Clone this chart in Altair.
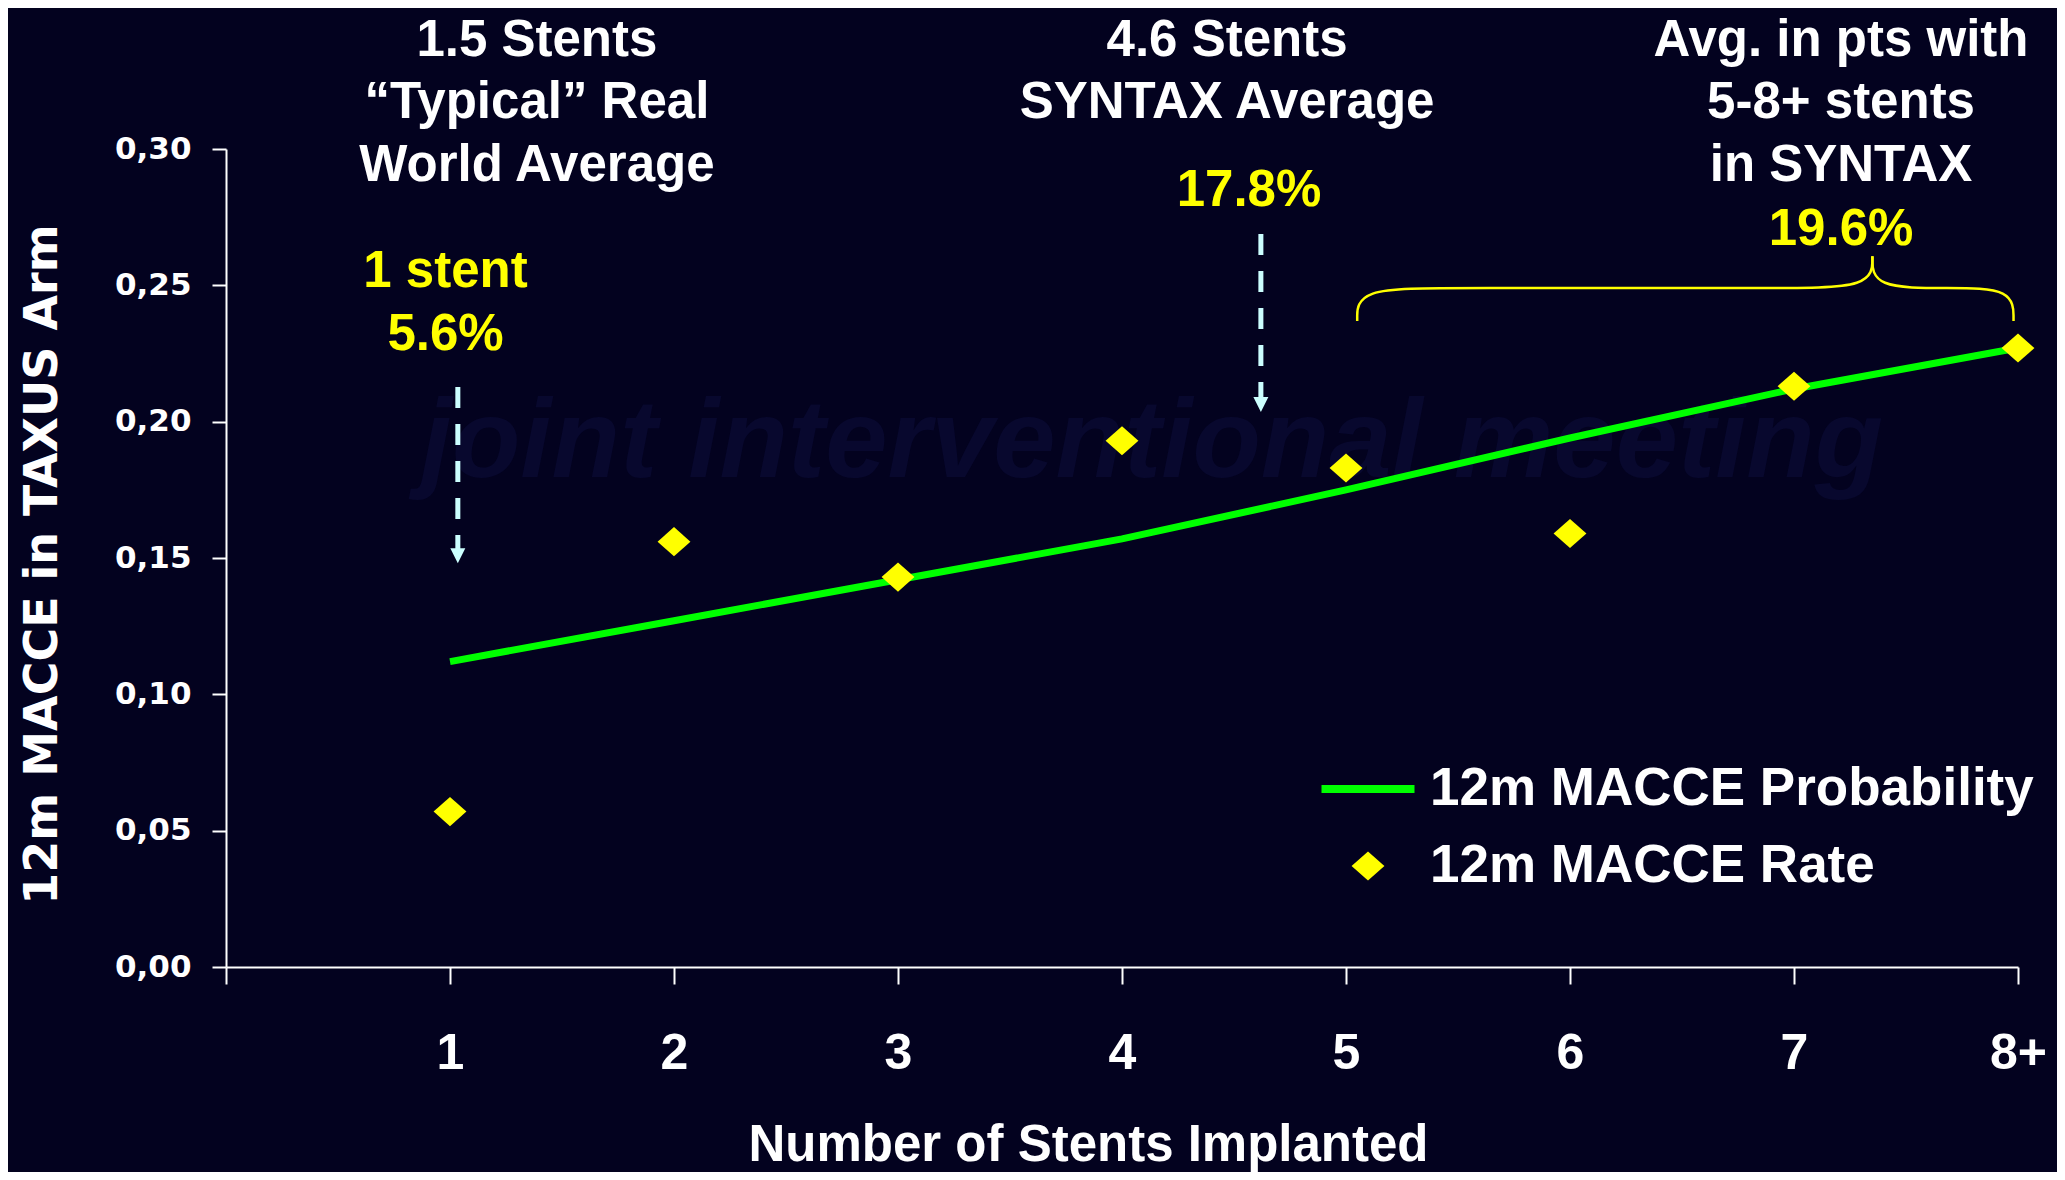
import altair as alt
import pandas as pd

# ---------------- data ----------------
stents = [1, 2, 3, 4, 5, 6, 7, 8]
tick_labels = ["1", "2", "3", "4", "5", "6", "7", "8+"]
macce_probability = [0.112, 0.127, 0.142, 0.157, 0.175, 0.194, 0.212, 0.227]
macce_rate = [0.057, 0.156, 0.143, 0.193, 0.183, 0.159, 0.213, 0.227]
y_ticks = [0.0, 0.05, 0.10, 0.15, 0.20, 0.25, 0.30]
series_names = ["12m MACCE Probability", "12m MACCE Rate"]

white_text = ["1.5 Stents", "\u201cTypical\u201d Real", "World Average",
              "4.6 Stents", "SYNTAX Average",
              "Avg. in pts with", "5-8+ stents", "in SYNTAX"]
white_x = [1.388, 1.388, 1.388, 4.469, 4.469, 7.21, 7.21, 7.21]
white_y = [0.3408, 0.3179, 0.2950, 0.3408, 0.3179, 0.3408, 0.3179, 0.2950]

yellow_text = ["1 stent", "5.6%", "17.8%", "19.6%"]
yellow_x = [0.98, 0.98, 4.567, 7.21]
yellow_y = [0.256, 0.2329, 0.2857, 0.2714]

arrow_x = [1.035, 4.62]
arrow_top = [0.2127, 0.2688]
arrow_tip = [0.1481, 0.2035]

brace_x = [5.05, 5.05, 5.47, 6.93, 7.35, 7.35, 7.35, 7.35, 7.69, 7.98, 7.98]
brace_y = [0.2369, 0.249, 0.249, 0.249, 0.249, 0.2607,
           0.2607, 0.249, 0.249, 0.249, 0.2369]
brace_part = [0, 0, 0, 0, 0, 0, 1, 1, 1, 1, 1]

watermark_text = "joint interventional meeting"

# ---------------- styles ----------------
BG = "#03021f"
GREEN = "#00ff00"
YELLOW = "#ffff00"
CYAN = "#ccffff"
ARIAL = "Liberation Sans"
VERDANA = "DejaVu Sans"
RECT = "M-1.5,-0.13L1.5,-0.13L1.5,0.13L-1.5,0.13Z"
DIAMOND = "M-0.53,0L0,-0.47L0.53,0L0,0.47Z"
TRI = "M-1,-1L1,-1L0,1Z"

X_SCALE = alt.Scale(domain=[0, 8], nice=False, zero=False)
Y_SCALE = alt.Scale(domain=[0, 0.30], nice=False, zero=False)

label_js = "[" + ",".join("'" + t + "'" for t in tick_labels) + "]"
x_label_expr = "datum.value < 1 ? '' : " + label_js + "[datum.value - 1]"

x_axis = alt.Axis(
    values=[0] + stents, labelExpr=x_label_expr, grid=False,
    domainColor="white", domainWidth=2, tickColor="white", tickWidth=2, tickSize=17,
    labelColor="white", labelFont=ARIAL, labelFontSize=50, labelFontWeight="bold",
    labelPadding=44, labelFlush=False, labelOverlap=False,
    title="Number of Stents Implanted", titleColor="white", titleFont=ARIAL,
    titleFontSize=51, titleFontWeight="bold", titleX=862, titleY=178,
    titleAlign="center", titleBaseline="middle",
)
y_axis = alt.Axis(
    values=y_ticks, labelExpr="replace(format(datum.value, '.2f'), '.', ',')", grid=False,
    domainColor="white", domainWidth=2, tickColor="white", tickWidth=2, tickSize=14,
    labelColor="white", labelFont=VERDANA, labelFontSize=31, labelFontWeight="bold",
    labelPadding=21, labelOverlap=False,
    title="12m MACCE in TAXUS Arm", titleColor="white", titleFont=VERDANA,
    titleFontSize=46, titleFontWeight="bold", titleAngle=270, titleX=-184, titleY=415,
    titleAlign="center", titleBaseline="middle",
)


def X(field):
    return alt.X(field, scale=X_SCALE, axis=x_axis)


def Y(field):
    return alt.Y(field, scale=Y_SCALE, axis=y_axis)


legend = alt.Legend(
    title=None, orient="none", legendX=1111, legendY=609, padding=0,
    labelFont=ARIAL, labelFontSize=53, labelFontWeight="bold", labelColor="white",
    labelLimit=900, labelOffset=31, symbolSize=3844, symbolOpacity=1,
    symbolStrokeWidth=0, rowPadding=19,
)

# ---------------- layers ----------------
watermark = alt.Chart(pd.DataFrame({"t": [watermark_text]})).mark_text(
    font=ARIAL, fontStyle="italic", fontWeight="bold", fontSize=112,
    color="#08082e", align="center", baseline="alphabetic",
).encode(x=alt.value(926), y=alt.value(328), text="t:N")

prob_df = pd.DataFrame({"x": stents, "y": macce_probability})
line = alt.Chart(prob_df).mark_line(color=GREEN, strokeWidth=7).encode(
    x=X("x:Q"), y=Y("y:Q"),
)

rate_df = pd.DataFrame({"x": stents, "y": macce_rate, "series": [series_names[1]] * len(stents)})
points = alt.Chart(rate_df).mark_point(filled=True, opacity=1, size=3844, strokeWidth=0).encode(
    x=X("x:Q"), y=Y("y:Q"),
    color=alt.Color("series:N", scale=alt.Scale(domain=series_names, range=[GREEN, YELLOW]), legend=legend),
    shape=alt.Shape("series:N", scale=alt.Scale(domain=series_names, range=[RECT, DIAMOND]), legend=legend),
)

arrow_df = pd.DataFrame({"x": arrow_x, "top": arrow_top, "tip": arrow_tip})
shaft = alt.Chart(arrow_df).mark_rule(color=CYAN, strokeWidth=5, strokeDash=[21, 16], y2Offset=-13).encode(
    x=X("x:Q"), y=Y("top:Q"), y2="tip:Q",
)
head = alt.Chart(arrow_df).mark_point(shape=TRI, filled=True, opacity=1, size=225, color=CYAN,
                                      strokeWidth=0, yOffset=-7.5).encode(
    x=X("x:Q"), y=Y("tip:Q"),
)

brace_df = pd.DataFrame({"x": brace_x, "y": brace_y, "part": brace_part,
                         "ord": list(range(len(brace_x)))})
brace = alt.Chart(brace_df).mark_line(color=YELLOW, strokeWidth=2.5, interpolate="basis").encode(
    x=X("x:Q"), y=Y("y:Q"), detail="part:N", order="ord:Q",
)

white_df = pd.DataFrame({"x": white_x, "y": white_y, "label": white_text})
white = alt.Chart(white_df).mark_text(font=ARIAL, fontSize=51, fontWeight="bold", color="white",
                                      align="center", baseline="middle", dy=3).encode(
    x=X("x:Q"), y=Y("y:Q"), text="label:N",
)

yellow_df = pd.DataFrame({"x": yellow_x, "y": yellow_y, "label": yellow_text})
yellow = alt.Chart(yellow_df).mark_text(font=ARIAL, fontSize=51, fontWeight="bold", color=YELLOW,
                                        align="center", baseline="middle", dy=3).encode(
    x=X("x:Q"), y=Y("y:Q"), text="label:N",
)

chart = alt.layer(watermark, line, points, shaft, head, brace, white, yellow).properties(
    width=1792, height=818,
    autosize=alt.AutoSizeParams(type="none"),
    padding={"left": 218, "top": 141, "right": 39, "bottom": 205},
    background=BG,
).configure_view(stroke=None)

chart.save("out.html", embed_options={"renderer": "svg", "actions": False})
